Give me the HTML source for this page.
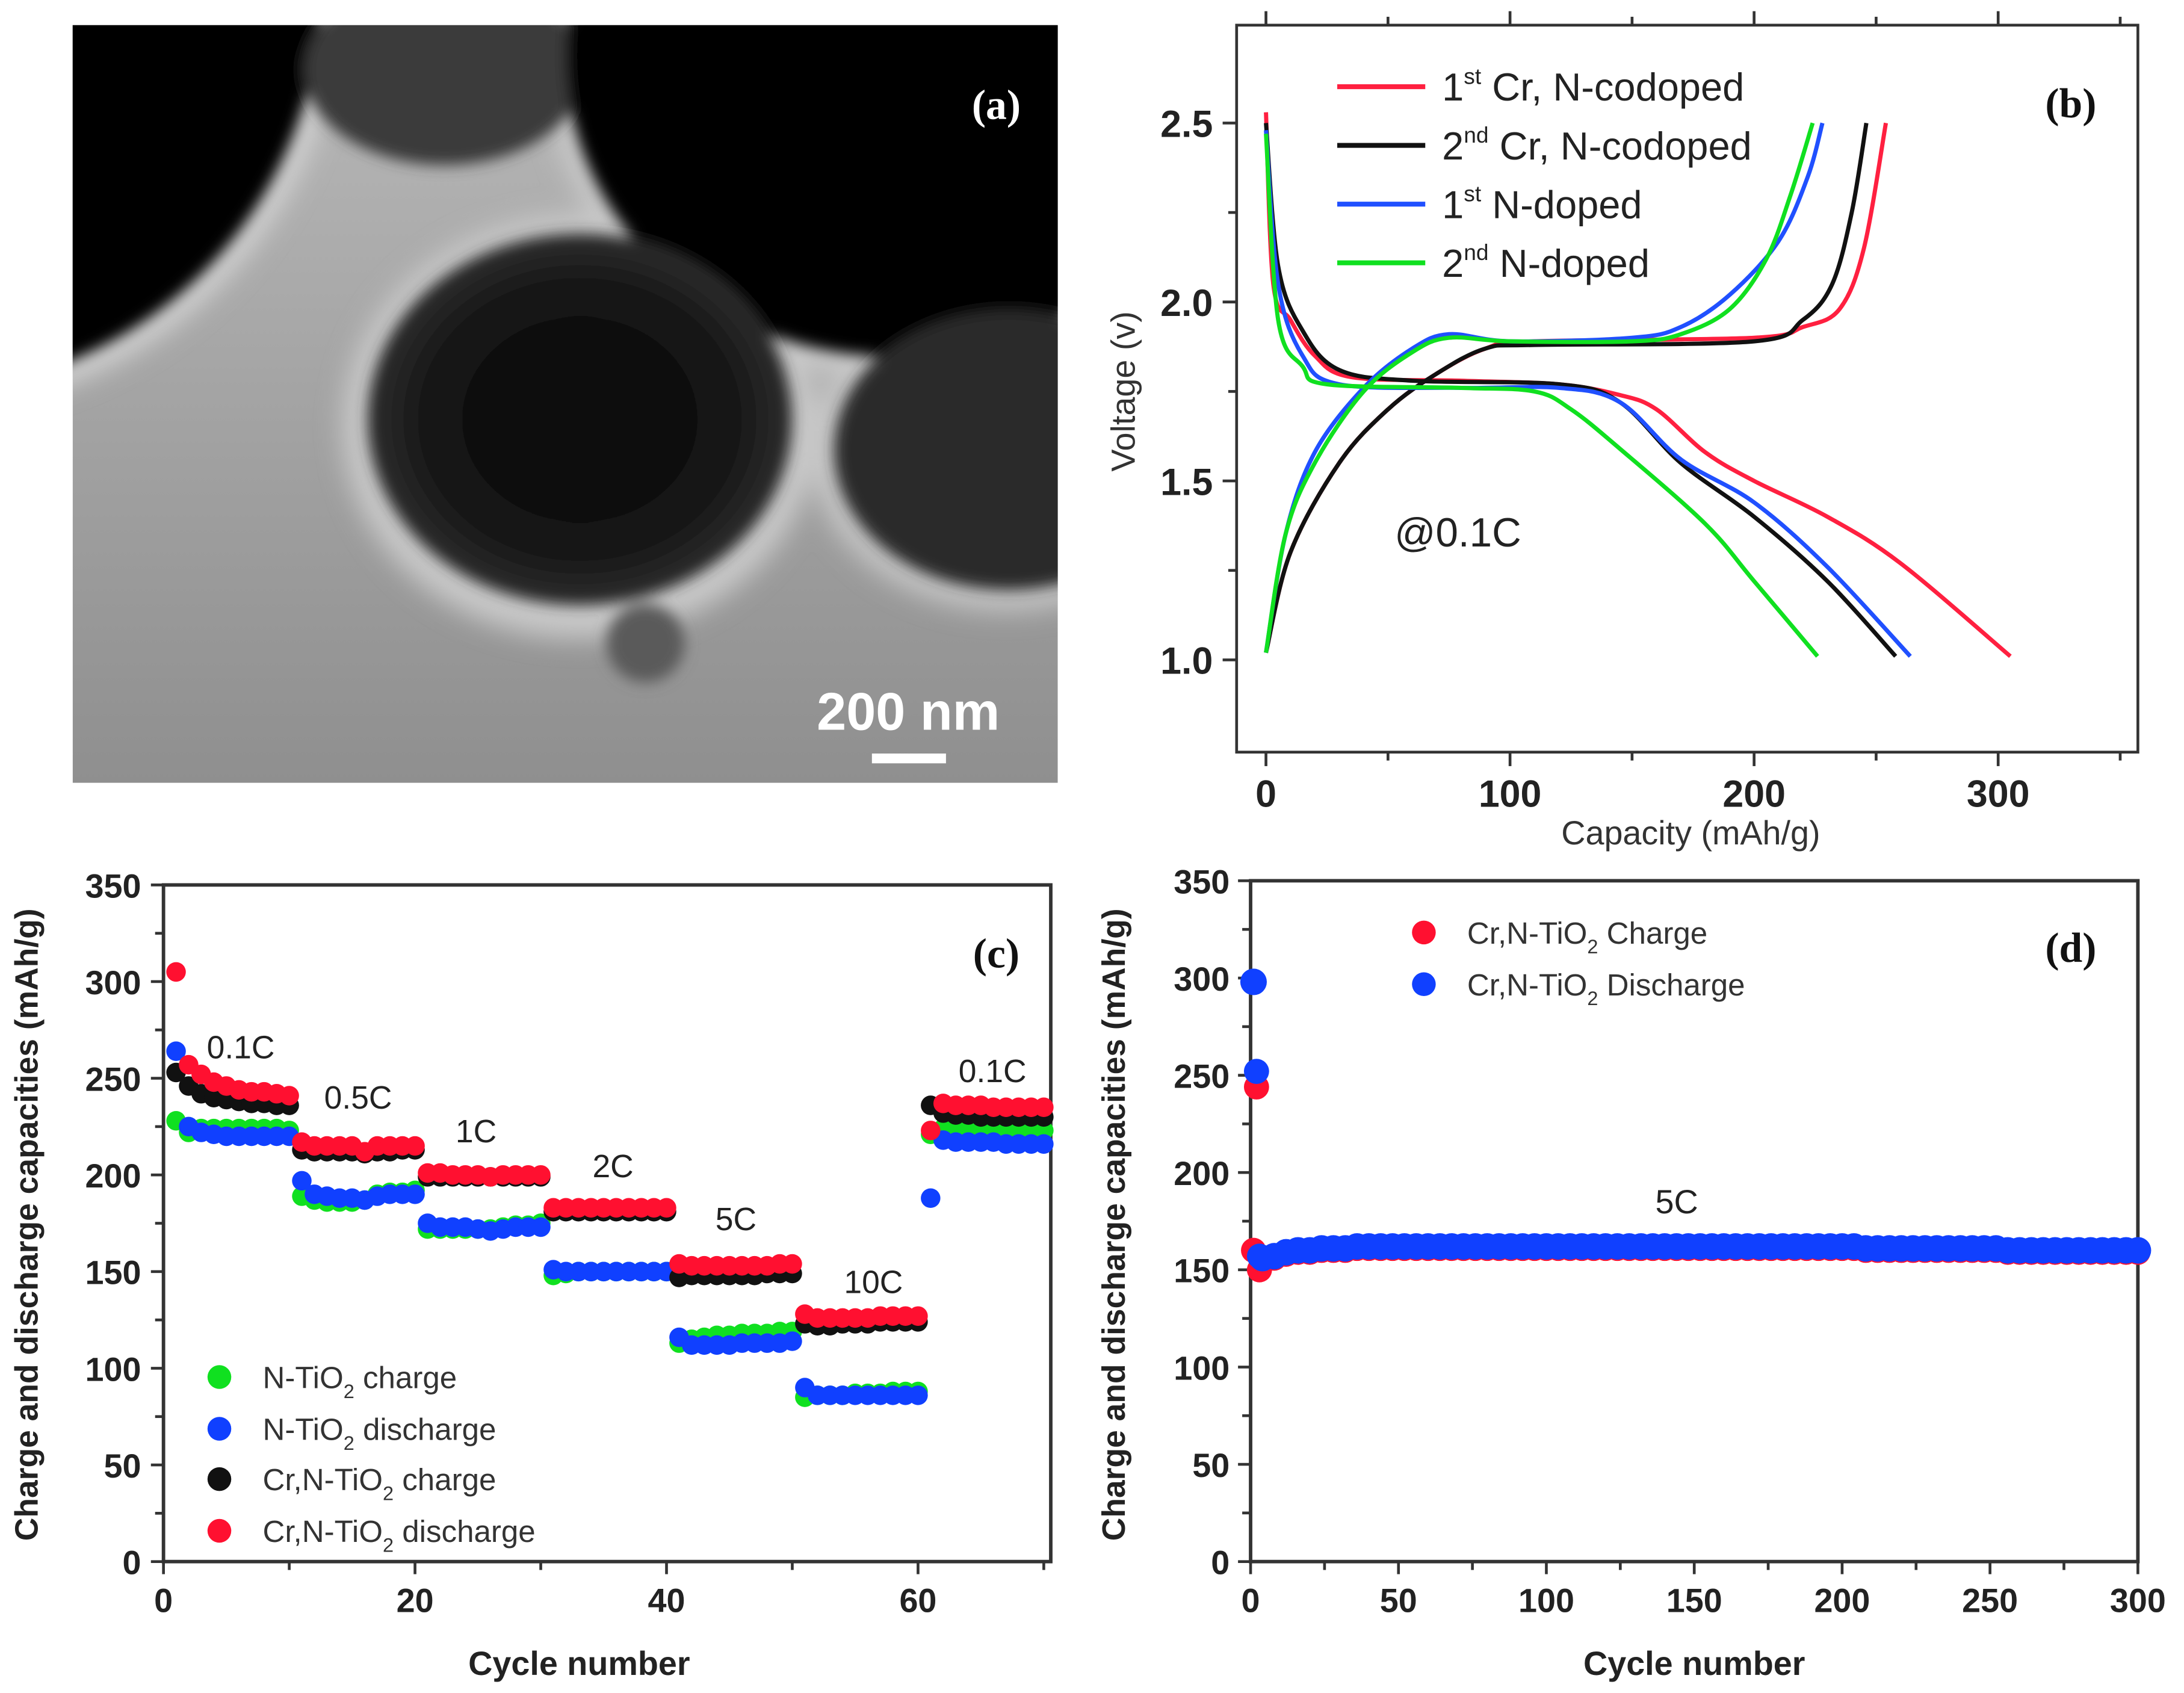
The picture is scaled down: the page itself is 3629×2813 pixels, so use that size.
<!DOCTYPE html>
<html><head><meta charset="utf-8"><style>
html,body{margin:0;padding:0;background:#fff}
svg{display:block}
text{font-family:"Liberation Sans",sans-serif}
.b{font-weight:bold}
.serif{font-family:"Liberation Serif",serif;font-weight:bold}
</style></head><body>
<svg id="fig" width="3629" height="2813" viewBox="0 0 1563 1211" preserveAspectRatio="none" xmlns="http://www.w3.org/2000/svg">
<defs>
<filter id="bl" x="-30%" y="-30%" width="160%" height="160%"><feGaussianBlur stdDeviation="9"/></filter>
<filter id="bl2" x="-30%" y="-30%" width="160%" height="160%"><feGaussianBlur stdDeviation="5"/></filter>
<radialGradient id="sph" cx="50%" cy="50%" r="50%"><stop offset="0" stop-color="#080808"/><stop offset="0.7" stop-color="#141414"/><stop offset="1" stop-color="#2e2e2e"/></radialGradient>
<linearGradient id="bgG" x1="0" y1="0" x2="0" y2="1"><stop offset="0" stop-color="#b8b8b8"/><stop offset="1" stop-color="#8f8f8f"/></linearGradient>
<clipPath id="clipA"><rect x="52" y="18" width="705" height="542"/></clipPath>
</defs>
<g id="panel-a" clip-path="url(#clipA)">
<rect x="52" y="18" width="705" height="542" fill="url(#bgG)"/>
<g filter="url(#bl)">
<circle cx="-60" cy="-10" r="305" fill="#d0d0d0"/>
<ellipse cx="415" cy="305" rx="170" ry="152" fill="#c8c8c8"/>
<ellipse cx="720" cy="322" rx="140" ry="115" fill="#c4c4c4"/>
<ellipse cx="640" cy="40" rx="250" ry="230" fill="#c8c8c8"/>
</g>
<g filter="url(#bl2)">
<circle cx="-60" cy="-10" r="290" fill="#050505"/>
<ellipse cx="318" cy="50" rx="100" ry="68" fill="#3a3a3a"/>
<ellipse cx="640" cy="40" rx="235" ry="215" fill="#050505"/>
<ellipse cx="722" cy="322" rx="125" ry="100" fill="#2a2a2a"/>
<ellipse cx="415" cy="300" rx="152" ry="133" fill="url(#sph)"/>
<circle cx="462" cy="460" r="28" fill="#5a5a5a"/>
</g>
<text x="713" y="85" class="serif" font-size="30" fill="#fff" text-anchor="middle">(a)</text>
<text x="650" y="522" class="b" font-size="38" fill="#fff" text-anchor="middle">200 nm</text>
<rect x="624" y="539" width="53" height="7" fill="#fff"/>
</g>
<g id="panel-b"></g>
<g id="panel-c"></g>
<g id="panel-d"></g>
</svg>
<script>
// ---------- Panel (b) data ----------
const bXTicks = [0, 100, 200, 300];
const bYTicks = [1.0, 1.5, 2.0, 2.5];
const bSeriesNames = ["1st Cr, N-codoped", "2nd Cr, N-codoped", "1st N-doped", "2nd N-doped"];
const bColors = ["#ff2040", "#111111", "#2050ff", "#10e020"];
const dis1CrCap = [0,3,10,20,35,80,120,145,160,180,200,230,260,305];
const dis1CrV   = [2.53,2.05,1.95,1.85,1.79,1.78,1.77,1.74,1.70,1.58,1.50,1.40,1.27,1.01];
const dis2CrCap = [0,5,15,30,60,120,145,170,200,230,258];
const dis2CrV   = [2.50,2.10,1.92,1.81,1.78,1.77,1.72,1.55,1.40,1.22,1.01];
const dis1NCap  = [0,5,15,30,80,120,145,170,200,230,264];
const dis1NV    = [2.48,2.05,1.85,1.77,1.76,1.76,1.72,1.56,1.44,1.26,1.01];
const dis2NCap  = [0,5,15,25,80,110,125,145,180,200,226];
const dis2NV    = [2.47,1.95,1.82,1.77,1.76,1.75,1.70,1.59,1.38,1.22,1.01];
const chg1CrCap = [0,10,30,50,70,90,110,200,220,235,245,254];
const chg1CrV   = [1.02,1.30,1.55,1.70,1.80,1.87,1.89,1.90,1.93,1.98,2.15,2.50];
const chg2CrCap = [0,10,30,50,70,90,110,200,220,232,240,246];
const chg2CrV   = [1.02,1.30,1.55,1.70,1.80,1.87,1.88,1.89,1.95,2.05,2.25,2.50];
const chg1NCap  = [0,8,20,40,60,75,100,150,170,190,210,222,228];
const chg1NV    = [1.02,1.35,1.58,1.76,1.87,1.91,1.89,1.90,1.93,2.02,2.17,2.35,2.50];
const chg2NCap  = [0,8,20,40,60,75,100,150,170,190,205,215,224];
const chg2NV    = [1.02,1.35,1.55,1.75,1.86,1.90,1.89,1.89,1.91,1.98,2.12,2.30,2.50];

// ---------- Panel (c) data ----------
const cXTicks = [0, 20, 40, 60];
const cYTicks = [0, 50, 100, 150, 200, 250, 300, 350];
const cCycles = [1,2,3,4,5,6,7,8,9,10,11,12,13,14,15,16,17,18,19,20,21,22,23,24,25,26,27,28,29,30,31,32,33,34,35,36,37,38,39,40,41,42,43,44,45,46,47,48,49,50,51,52,53,54,55,56,57,58,59,60,61,62,63,64,65,66,67,68,69,70];
const nCharge = [228,222,224,224,224,224,224,224,224,223, 189,187,186,186,186,187,190,191,191,192, 172,172,172,172,172,172,173,174,174,175, 148,149,150,150,150,150,150,150,150,150, 113,115,116,117,117,118,118,118,119,119, 85,86,86,86,87,87,87,88,88,88, 221,224,224,224,223,223,223,223,223,223];
const nDischarge = [264,225,222,221,220,220,220,220,220,220, 197,190,189,188,188,187,189,190,190,190, 175,173,173,173,172,171,172,173,173,173, 151,150,150,150,150,150,150,150,150,150, 116,112,112,112,112,113,113,113,113,114, 90,86,86,86,86,86,86,86,86,86, 188,218,217,217,217,217,216,216,216,216];
const crCharge = [253,246,242,240,239,238,237,237,236,236, 213,212,212,212,212,211,212,212,213,213, 199,199,199,199,199,199,199,199,199,199, 181,181,181,181,181,181,181,181,181,181, 147,148,148,148,148,148,148,149,149,149, 123,122,122,123,123,123,124,124,124,124, 236,232,231,231,230,230,230,230,230,230];
const crDischarge = [305,257,252,248,246,244,243,243,242,241, 217,215,215,215,215,212,215,215,215,215, 201,201,200,200,200,199,200,200,200,200, 183,183,183,183,183,183,183,183,183,183, 154,153,153,153,153,153,153,153,154,154, 128,126,126,126,126,126,127,127,127,127, 223,237,236,236,236,235,235,235,235,235];
const cRateLabels = ["0.1C","0.5C","1C","2C","5C","10C","0.1C"];

// ---------- Panel (d) data ----------
const dXTicks = [0,50,100,150,200,250,300];
const dYTicks = [0,50,100,150,200,250,300,350];
const dCycles = [1,2,3,4,8,12,16,20,24,28,32,36,40,44,48,52,56,60,64,68,72,76,80,84,88,92,96,100,104,108,112,116,120,124,128,132,136,140,144,148,152,156,160,164,168,172,176,180,184,188,192,196,200,204,208,212,216,220,224,228,232,236,240,244,248,252,256,260,264,268,272,276,280,284,288,292,296,300];
const dDischarge = [298,252,157,156,157,159,160,160,161,161,161,162,162, 162,162,162,162,162,162,162,162,162,162, 162,162,162,162,162,162,162,162,162,162, 162,162,162,162,162,162,162,162,162,162, 162,162,162,162,162,162,162,162,162,162, 162,161,161,161,161,161,161,161,161,161, 161,161,161,160,160,160,160,160,160,160, 160,160,160,160,160];
const dCharge = [160,244,150,155,156,158,159,159,160,160,160,161,161, 161,161,161,161,161,161,161,161,161,161, 161,161,161,161,161,161,161,161,161,161, 161,161,161,161,161,161,161,161,161,161, 161,161,161,161,161,161,161,161,161,161, 161,160,160,160,160,160,160,160,160,160, 160,160,160,159,159,159,159,159,159,159, 159,159,159,159,159];

const NS = "http://www.w3.org/2000/svg";
function mk(tag, attrs, parent) {
  const e = document.createElementNS(NS, tag);
  for (const k in attrs) e.setAttribute(k, attrs[k]);
  parent.appendChild(e);
  return e;
}
function smoothPath(pts) {
  let d = "M" + pts[0][0].toFixed(2) + "," + pts[0][1].toFixed(2);
  for (let i = 0; i < pts.length - 1; i++) {
    const p0 = pts[i-1] || pts[i], p1 = pts[i], p2 = pts[i+1], p3 = pts[i+2] || p2;
    const c1x = p1[0] + (p2[0]-p0[0])/6, c1y = p1[1] + (p2[1]-p0[1])/6;
    const c2x = p2[0] - (p3[0]-p1[0])/6, c2y = p2[1] - (p3[1]-p1[1])/6;
    d += " C" + c1x.toFixed(2)+","+c1y.toFixed(2)+" "+c2x.toFixed(2)+","+c2y.toFixed(2)+" "+p2[0].toFixed(2)+","+p2[1].toFixed(2);
  }
  return d;
}

// ===== Panel B =====
(function(){
  const g = document.getElementById("panel-b");
  const L=885, R=1530, T=18, B=538;
  const xS = v => 906 + (v-0)*(1430-906)/300;
  const yS = v => 472 - (v-1.0)*(472-88)/1.5;
  const frame = mk("rect",{x:L,y:T,width:R-L,height:B-T,fill:"none",stroke:"#333","stroke-width":2},g);
  
  
  for (let v=0; v<=350; v+=50) {
    const x = xS(v), len = (v%100===0)?10:6;
    const t1 = mk("line",{x1:x,y1:B,x2:x,y2:B+len,stroke:"#333","stroke-width":2},g);
    
    
    const t2 = mk("line",{x1:x,y1:T,x2:x,y2:T-len,stroke:"#333","stroke-width":2},g);
    
    
  }
  bXTicks.forEach(v=>{
    const t = mk("text",{x:xS(v),y:577,"text-anchor":"middle","font-size":27,class:"b",fill:"#222"},g);
    t.textContent = v;
    
    
  });
  for (let v=1.0; v<=2.51; v+=0.25) {
    const y=yS(v), len = (Math.abs(v*2-Math.round(v*2))<0.01)?10:6;
    const t = mk("line",{x1:L,y1:y,x2:L-len,y2:y,stroke:"#333","stroke-width":2},g);
    
    
  }
  bYTicks.forEach(v=>{
    const t = mk("text",{x:868,y:yS(v)+10,"text-anchor":"end","font-size":27,class:"b",fill:"#222"},g);
    t.textContent = v.toFixed(1);
    
    
  });
  const yt = mk("text",{x:0,y:0,"text-anchor":"middle","font-size":24,fill:"#333",transform:"translate(812,280) rotate(-90)"},g);
  yt.textContent = "Voltage (v)";
  
  
  const xt = mk("text",{x:1210,y:604,"text-anchor":"middle","font-size":24,fill:"#333"},g);
  xt.textContent = "Capacity (mAh/g)";
  
  
  const curves = [
    [dis1CrCap,dis1CrV,0,"discharge-1st-cr"],[chg1CrCap,chg1CrV,0,"charge-1st-cr"],
    [dis2CrCap,dis2CrV,1,"discharge-2nd-cr"],[chg2CrCap,chg2CrV,1,"charge-2nd-cr"],
    [dis1NCap,dis1NV,2,"discharge-1st-n"],[chg1NCap,chg1NV,2,"charge-1st-n"],
    [dis2NCap,dis2NV,3,"discharge-2nd-n"],[chg2NCap,chg2NV,3,"charge-2nd-n"]
  ];
  curves.forEach(c=>{
    const pts = c[0].map((x,i)=>[xS(x), yS(c[1][i])]);
    const p = mk("path",{d:smoothPath(pts),fill:"none",stroke:bColors[c[2]],"stroke-width":3,"stroke-linejoin":"round"},g);
    
    
  });
  const sups = ["st","nd","st","nd"];
  const rest = [" Cr, N-codoped"," Cr, N-codoped"," N-doped"," N-doped"];
  const nums = ["1","2","1","2"];
  [62,104,146,188].forEach((y,i)=>{
    const ln = mk("line",{x1:957,y1:y,x2:1020,y2:y,stroke:bColors[i],"stroke-width":3.5},g);
    
    
    const t = mk("text",{x:1032,y:y+10,"font-size":28,fill:"#222"},g);
    
    
    const a = mk("tspan",{},t); a.textContent = nums[i];
    const s = mk("tspan",{"font-size":16,dy:-12},t); s.textContent = sups[i];
    const r = mk("tspan",{dy:12},t); r.textContent = rest[i];
  });
  const at = mk("text",{x:998,y:391,"font-size":29,fill:"#222"},g);
  at.textContent = "@0.1C";
  
  
  const lb = mk("text",{x:1482,y:84,"text-anchor":"middle","font-size":30,class:"serif",fill:"#111"},g);
  lb.textContent = "(b)";
  
  
})();

function axesRate(g, L, R, T, B, xS, yS, xTicks, xMinorStep, xMax, yTicks, tag, ylabX, ytitleX) {
  const frame = mk("rect",{x:L,y:T,width:R-L,height:B-T,fill:"none",stroke:"#333","stroke-width":2.5},g);
  
  
  for (let v=0; v<=xMax; v+=xMinorStep) {
    const major = xTicks.indexOf(v) >= 0;
    const t = mk("line",{x1:xS(v),y1:B,x2:xS(v),y2:B+(major?9:6),stroke:"#333","stroke-width":2},g);
    
    
  }
  xTicks.forEach(v=>{
    const t = mk("text",{x:xS(v),y:B+36,"text-anchor":"middle","font-size":24,class:"b",fill:"#222"},g);
    t.textContent = v;
    
    
  });
  for (let v=0; v<=350; v+=25) {
    const t = mk("line",{x1:L,y1:yS(v),x2:L-(v%50===0?9:6),y2:yS(v),stroke:"#333","stroke-width":2},g);
    
    
  }
  yTicks.forEach(v=>{
    const t = mk("text",{x:ylabX,y:yS(v)+9,"text-anchor":"end","font-size":24,class:"b",fill:"#222"},g);
    t.textContent = v;
    
    
  });
  const yt = mk("text",{x:0,y:0,"text-anchor":"middle","font-size":23,class:"b",fill:"#222",transform:"translate("+ytitleX+",876) rotate(-90)"},g);
  yt.textContent = "Charge and discharge capacities (mAh/g)";
  
  
  const xt = mk("text",{x:(L+R)/2 + (tag==='c'?-20:0),y:1198,"text-anchor":"middle","font-size":24,class:"b",fill:"#222"},g);
  xt.textContent = "Cycle number";
  
  
}
function legendDot(g, x, y, color, main, sub, tail, tag) {
  const c = mk("circle",{cx:x,cy:y,r:8.5,fill:color},g);
  
  
  const t = mk("text",{x:x+31,y:y+8,"font-size":22,fill:"#333"},g);
  
  
  const a = mk("tspan",{},t); a.textContent = main;
  const s = mk("tspan",{"font-size":14,dy:7},t); s.textContent = sub;
  const r = mk("tspan",{dy:-7},t); r.textContent = tail;
}

// ===== Panel C =====
(function(){
  const g = document.getElementById("panel-c");
  const L=117, R=752, T=633, B=1117;
  const xS = v => L + v*9.0;
  const yS = v => B - v*(B-T)/350;
  axesRate(g,L,R,T,B,xS,yS,cXTicks,10,70,cYTicks,'c',101,27);
  const series = [[nCharge,"#10e020","n-tio2-charge"],[nDischarge,"#1040ff","n-tio2-discharge"],[crCharge,"#111","cr-n-tio2-charge"],[crDischarge,"#ff1030","cr-n-tio2-discharge"]];
  series.forEach(s=>{
    cCycles.forEach((cy,i)=>{
      const c = mk("circle",{cx:xS(cy),cy:yS(s[0][i]),r:7,fill:s[1]},g);
      
      
    });
  });
  const rl = [[148,757],[232,793],[326,817],[424,842],[512,880],[604,925],[686,774]];
  cRateLabels.forEach((lab,i)=>{
    const t = mk("text",{x:rl[i][0],y:rl[i][1],"font-size":23,fill:"#222"},g);
    t.textContent = lab;
    
    
  });
  legendDot(g,157,985,"#10e020","N-TiO","2"," charge",'c');
  legendDot(g,157,1022,"#1040ff","N-TiO","2"," discharge",'c');
  legendDot(g,157,1058,"#111","Cr,N-TiO","2"," charge",'c');
  legendDot(g,157,1095,"#ff1030","Cr,N-TiO","2"," discharge",'c');
  const lb = mk("text",{x:713,y:692,"text-anchor":"middle","font-size":30,class:"serif",fill:"#111"},g);
  lb.textContent = "(c)";
  
  
})();

// ===== Panel D =====
(function(){
  const g = document.getElementById("panel-d");
  const L=895, R=1530, T=630, B=1117;
  const xS = v => L + v*(R-L)/300;
  const yS = v => B - v*(B-T)/350;
  axesRate(g,L,R,T,B,xS,yS,dXTicks,25,300,dYTicks,'d',880,805);
  dCycles.forEach((cy,i)=>{
    const c = mk("circle",{cx:xS(cy),cy:yS(dCharge[i]),r:9,fill:"#ff1030"},g);
    
    
  });
  dCycles.forEach((cy,i)=>{
    if (cy===2 || cy===3) return;
    const c = mk("circle",{cx:xS(cy),cy:yS(dDischarge[i]),r:9.5,fill:"#1040ff"},g);
    
    
  });
  [1,2].forEach(i=>{
    const c = mk("circle",{cx:xS(dCycles[i]),cy:yS(dDischarge[i]),r:9,fill:"#1040ff"},g);
    
    
  });
  const t5 = mk("text",{x:1200,y:868,"text-anchor":"middle","font-size":24,fill:"#222"},g);
  t5.textContent = "5C";
  
  
  legendDot(g,1019,667,"#ff1030","Cr,N-TiO","2"," Charge",'d');
  legendDot(g,1019,704,"#1040ff","Cr,N-TiO","2"," Discharge",'d');
  const lb = mk("text",{x:1482,y:688,"text-anchor":"middle","font-size":30,class:"serif",fill:"#111"},g);
  lb.textContent = "(d)";
  
  
})();
</script>
</body></html>
